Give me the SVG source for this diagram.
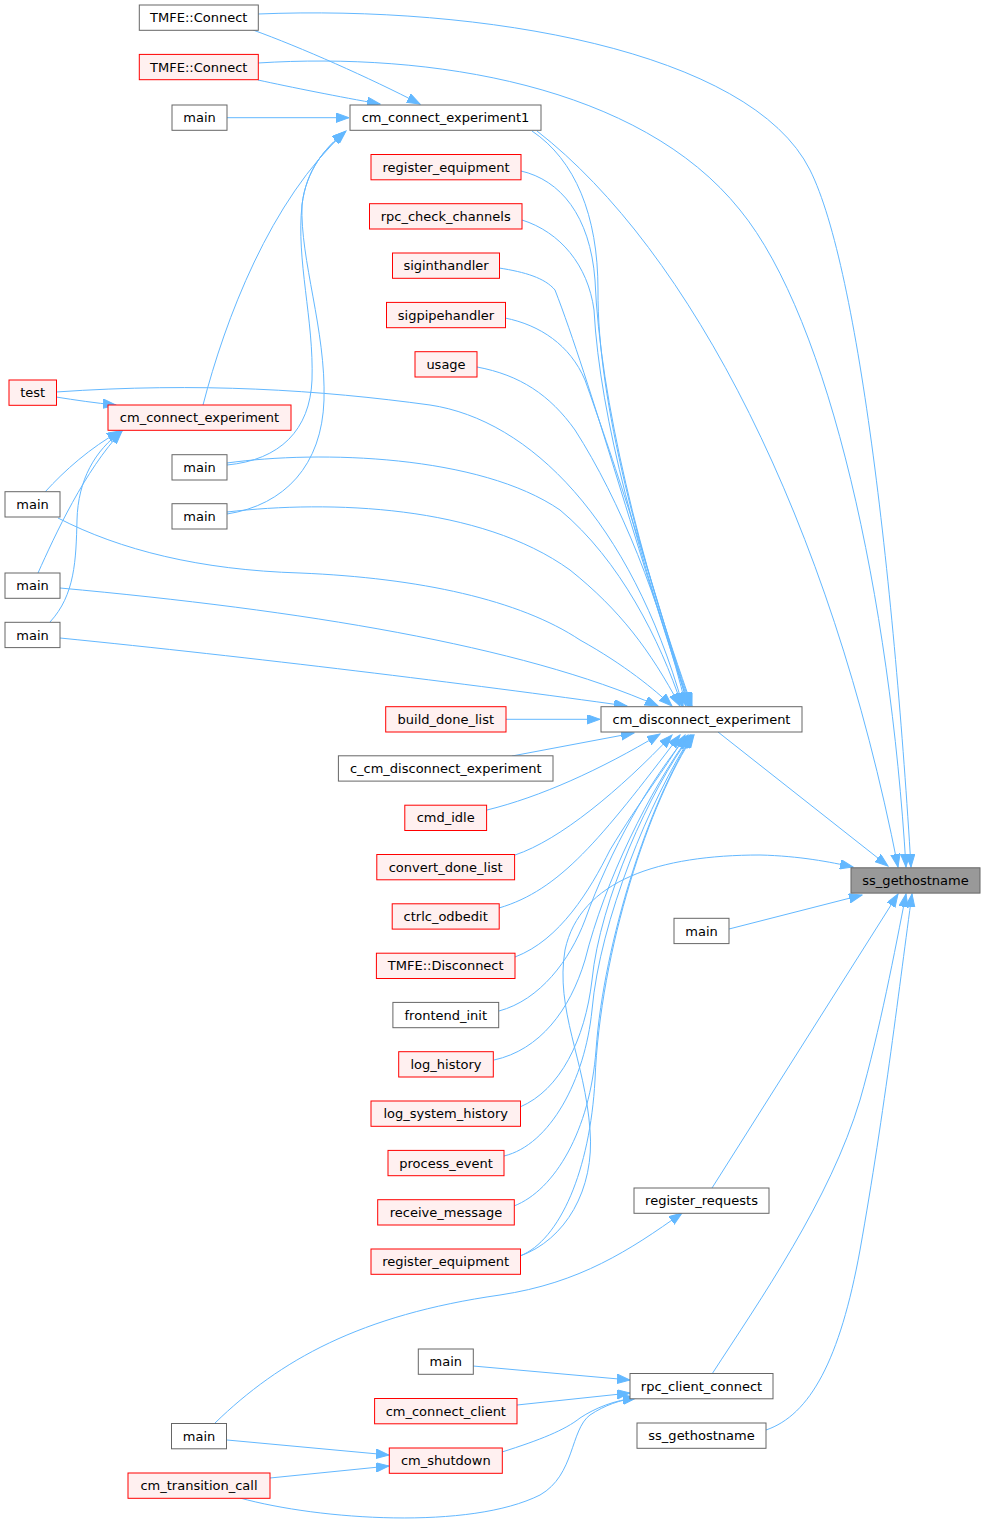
<svg xmlns="http://www.w3.org/2000/svg" width="985" height="1526" viewBox="0 0 985 1526">
<style>
.n rect{fill:#ffffff;stroke:#666666;stroke-width:1}
.r rect{fill:#fff0f0;stroke:#ff0000;stroke-width:1}
.root rect{fill:#999999;stroke:#666666;stroke-width:1}
text{font-family:"DejaVu Sans","Liberation Sans",sans-serif;font-size:13px;text-anchor:middle;fill:#000000}
#edges path{fill:none;stroke:#63b8ff;stroke-width:1;marker-end:url(#ah)}
</style>
<defs>
<marker id="ah" markerUnits="userSpaceOnUse" markerWidth="14" markerHeight="10" refX="13" refY="4.7" orient="auto" viewBox="0 0 14 10">
<path d="M0,0 L13,4.7 L0,9.4 z" fill="#63b8ff" stroke="#63b8ff" stroke-width="1"/>
</marker>
</defs>
<rect width="985" height="1526" fill="#ffffff"/>
<g id="edges">
<path d="M253,30 C300,47 370,78 420,104"/>
<path d="M258,80 C290,87 340,97 380,104"/>
<path d="M227,117.7 L349,117.7"/>
<path d="M203,405 C225,320 270,200 346,131"/>
<path d="M227,465 C280,460 310,430 312,380 C314,320 296,260 302,205 C306,170 325,148 345,132"/>
<path d="M227,514 C285,505 322,465 324,400 C326,330 300,260 302,205 C306,170 325,148 345,132"/>
<path d="M56,397 C75,400 95,403 116,405"/>
<path d="M45,492 C65,470 90,448 120,431"/>
<path d="M38,573 C55,535 85,470 122,431"/>
<path d="M50,622 C75,595 76,560 77,520 C78,480 95,450 122,431"/>
<path d="M532,131 C575,160 598,215 598,290 C597,400 640,560 692,706"/>
<path d="M521,171 C560,180 590,215 595,280 C600,400 640,560 691,706"/>
<path d="M522,220 C560,232 588,265 594,310 C600,420 640,560 690,706"/>
<path d="M499,268 C525,272 545,278 555,290 C590,380 640,560 689,706"/>
<path d="M505,318 C540,325 570,345 585,380 C610,450 650,570 688,706"/>
<path d="M477,367 C520,375 550,395 575,430 C620,500 660,600 686,706"/>
<path d="M56,392 C200,382 320,390 430,405 C530,420 630,520 683,706"/>
<path d="M227,463 C320,450 480,455 560,510 C620,560 660,640 682,706"/>
<path d="M227,512 C330,500 480,505 570,570 C620,610 650,650 680,706"/>
<path d="M58,518 C120,550 200,570 300,573 C420,578 520,600 580,640 C625,665 655,690 672,706"/>
<path d="M60,588 C300,610 520,645 658,706"/>
<path d="M60,638 C250,657 470,684 627,706"/>
<path d="M506,719.3 L600,719.3"/>
<path d="M512,756 L634,733"/>
<path d="M487,810 C540,797 600,770 660,734"/>
<path d="M515,855 C560,840 620,790 672,735"/>
<path d="M499,908 C560,890 600,840 680,735"/>
<path d="M515,957 C560,940 590,890 610,850 C640,800 665,770 685,735"/>
<path d="M499,1011 C540,1000 570,960 585,920 C610,850 650,780 688,735"/>
<path d="M494,1060 C540,1050 570,1010 585,960 C605,880 650,790 690,735"/>
<path d="M520,1107 C560,1090 585,1040 592,980 C600,900 650,790 691,735"/>
<path d="M504,1156 C550,1145 585,1080 592,1010 C600,920 650,800 692,735"/>
<path d="M514,1206 C555,1190 590,1130 596,1050 C604,940 650,800 693,735"/>
<path d="M520,1256 C560,1240 590,1170 595,1080 C600,950 650,800 694,735"/>
<path d="M258,14 C480,5 750,50 810,170 C860,270 895,600 911,867"/>
<path d="M258,63 C430,52 640,85 740,210 C830,320 890,600 906,867"/>
<path d="M537,131 C690,250 830,520 898,867"/>
<path d="M718,732 L888,866"/>
<path d="M520,1256 C565,1240 595,1190 590,1130 C585,1060 555,1010 565,950 C580,880 660,855 760,855 C800,856 830,862 853,867"/>
<path d="M729,929 L862,895"/>
<path d="M712,1188 L898,894"/>
<path d="M712,1374 C760,1300 830,1200 860,1100 C880,1030 895,950 906,894"/>
<path d="M766,1430 C810,1415 840,1360 860,1250 C885,1110 900,980 912,894"/>
<path d="M215,1423 C280,1360 360,1315 500,1295 C580,1283 630,1250 682,1213"/>
<path d="M473,1366 L630,1380"/>
<path d="M517,1405 L630,1393"/>
<path d="M502,1452 C540,1440 565,1430 580,1418 C595,1408 615,1400 636,1398"/>
<path d="M240,1498 C320,1520 470,1530 540,1495 C575,1475 570,1430 590,1415 C605,1405 620,1400 636,1398"/>
<path d="M227,1440 L389,1455"/>
<path d="M270,1478 L389,1466"/>
</g>
<g id="n_ss_gethostname" class="root"><rect x="851" y="867.8" width="129" height="25.3"/><text x="915.5" y="885">ss_gethostname</text></g>
<g id="n_cm_disconnect_experiment" class="n"><rect x="601" y="706.7" width="201" height="25.3"/><text x="701.5" y="723.9">cm_disconnect_experiment</text></g>
<g id="n_main_r" class="n"><rect x="674" y="918.3" width="55" height="25.3"/><text x="701.5" y="935.5">main</text></g>
<g id="n_register_requests" class="n"><rect x="634" y="1188" width="135" height="25.3"/><text x="701.5" y="1205.2">register_requests</text></g>
<g id="n_rpc_client_connect" class="n"><rect x="630" y="1373.5" width="143" height="25.3"/><text x="701.5" y="1390.7">rpc_client_connect</text></g>
<g id="n_ss_gethostname2" class="n"><rect x="637" y="1423" width="129" height="25.3"/><text x="701.5" y="1440.2">ss_gethostname</text></g>
<g id="n_cm_connect_experiment1" class="n"><rect x="350" y="105" width="191" height="25.3"/><text x="445.5" y="122.2">cm_connect_experiment1</text></g>
<g id="n_register_equipment1" class="r"><rect x="371" y="154.5" width="150" height="25.3"/><text x="446" y="171.7">register_equipment</text></g>
<g id="n_rpc_check_channels" class="r"><rect x="369.5" y="203.7" width="152.5" height="25.3"/><text x="445.7" y="220.9">rpc_check_channels</text></g>
<g id="n_siginthandler" class="r"><rect x="392.5" y="253" width="107" height="25.3"/><text x="446" y="270.2">siginthandler</text></g>
<g id="n_sigpipehandler" class="r"><rect x="386.5" y="302.4" width="119" height="25.3"/><text x="446" y="319.6">sigpipehandler</text></g>
<g id="n_usage" class="r"><rect x="415" y="351.7" width="62" height="25.3"/><text x="446" y="368.9">usage</text></g>
<g id="n_build_done_list" class="r"><rect x="385.7" y="706.7" width="120.3" height="25.3"/><text x="445.8" y="723.9">build_done_list</text></g>
<g id="n_c_cm_disconnect_experiment" class="n"><rect x="338.4" y="755.8" width="214.6" height="25.3"/><text x="445.7" y="773">c_cm_disconnect_experiment</text></g>
<g id="n_cmd_idle" class="r"><rect x="404.8" y="805.2" width="81.8" height="25.3"/><text x="445.7" y="822.4">cmd_idle</text></g>
<g id="n_convert_done_list" class="r"><rect x="376.8" y="854.5" width="137.8" height="25.3"/><text x="445.7" y="871.7">convert_done_list</text></g>
<g id="n_ctrlc_odbedit" class="r"><rect x="392.2" y="903.8" width="107" height="25.3"/><text x="445.7" y="921">ctrlc_odbedit</text></g>
<g id="n_tmfe_disconnect" class="r"><rect x="376.4" y="953.2" width="138.6" height="25.3"/><text x="445.7" y="970.4">TMFE::Disconnect</text></g>
<g id="n_frontend_init" class="n"><rect x="392.9" y="1002.4" width="105.8" height="25.3"/><text x="445.8" y="1019.6">frontend_init</text></g>
<g id="n_log_history" class="r"><rect x="398.7" y="1051.7" width="94.6" height="25.3"/><text x="446" y="1068.9">log_history</text></g>
<g id="n_log_system_history" class="r"><rect x="371" y="1101" width="149.5" height="25.3"/><text x="445.7" y="1118.2">log_system_history</text></g>
<g id="n_process_event" class="r"><rect x="388" y="1150.4" width="116" height="25.3"/><text x="446" y="1167.6">process_event</text></g>
<g id="n_receive_message" class="r"><rect x="377.7" y="1199.7" width="136.6" height="25.3"/><text x="446" y="1216.9">receive_message</text></g>
<g id="n_register_equipment2" class="r"><rect x="371" y="1249" width="149.5" height="25.3"/><text x="445.7" y="1266.2">register_equipment</text></g>
<g id="n_main_c3" class="n"><rect x="418.3" y="1349" width="55" height="25.3"/><text x="445.8" y="1366.2">main</text></g>
<g id="n_cm_connect_client" class="r"><rect x="374.6" y="1398.5" width="142.4" height="25.3"/><text x="445.8" y="1415.7">cm_connect_client</text></g>
<g id="n_cm_shutdown" class="r"><rect x="389.3" y="1448" width="113" height="25.3"/><text x="445.8" y="1465.2">cm_shutdown</text></g>
<g id="n_tmfe_connect1" class="n"><rect x="139.3" y="5" width="119" height="25.3"/><text x="198.8" y="22.2">TMFE::Connect</text></g>
<g id="n_tmfe_connect2" class="r"><rect x="139.3" y="54.4" width="119" height="25.3"/><text x="198.8" y="71.6">TMFE::Connect</text></g>
<g id="n_main_c2a" class="n"><rect x="172" y="105" width="55" height="25.3"/><text x="199.5" y="122.2">main</text></g>
<g id="n_cm_connect_experiment" class="r"><rect x="108" y="405" width="183" height="25.3"/><text x="199.5" y="422.2">cm_connect_experiment</text></g>
<g id="n_main_c2b" class="n"><rect x="172" y="454.7" width="55" height="25.3"/><text x="199.5" y="471.9">main</text></g>
<g id="n_main_c2c" class="n"><rect x="172" y="503.7" width="55" height="25.3"/><text x="199.5" y="520.9">main</text></g>
<g id="n_main_c2d" class="n"><rect x="171.5" y="1423.5" width="55" height="25.3"/><text x="199" y="1440.7">main</text></g>
<g id="n_cm_transition_call" class="r"><rect x="128" y="1473" width="142" height="25.3"/><text x="199" y="1490.2">cm_transition_call</text></g>
<g id="n_test" class="r"><rect x="9" y="380" width="47.5" height="25.3"/><text x="32.7" y="397.2">test</text></g>
<g id="n_main_c1a" class="n"><rect x="5" y="491.7" width="55" height="25.3"/><text x="32.5" y="508.9">main</text></g>
<g id="n_main_c1b" class="n"><rect x="5" y="573" width="55" height="25.3"/><text x="32.5" y="590.2">main</text></g>
<g id="n_main_c1c" class="n"><rect x="5" y="622.3" width="55" height="25.3"/><text x="32.5" y="639.5">main</text></g>
</svg>
